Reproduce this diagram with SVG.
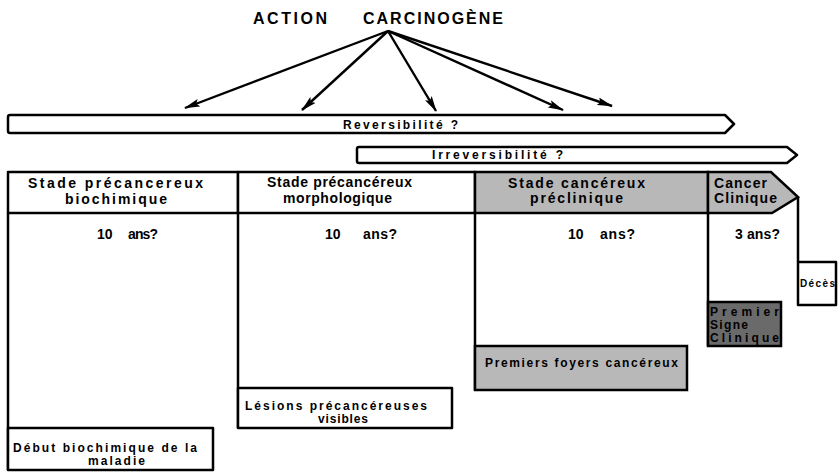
<svg xmlns="http://www.w3.org/2000/svg" width="838" height="472" viewBox="0 0 838 472">
<style>
  text { font-family: "Liberation Sans", Arial, sans-serif; font-weight: bold; fill: #000; }
  .title { font-size: 16px; }
  .hdr { font-size: 14px; }
  .small { font-size: 12px; }
  .box { fill: #fff; stroke: #000; stroke-width: 2.5; stroke-linejoin: round; }
  .gray { fill: #b8b8b8; stroke: #000; stroke-width: 2.5; }
  .dark { fill: #6a6a6a; stroke: #000; stroke-width: 2.5; }
  .line { stroke: #000; stroke-width: 2.5; fill: none; }
  .arrow { stroke: #000; stroke-width: 2.4; fill: none; marker-end: url(#ah); }
</style>
<defs>
  <marker id="ah" viewBox="0 0 16 8" refX="15" refY="4" markerWidth="16" markerHeight="8" markerUnits="userSpaceOnUse" orient="auto">
    <path d="M0,0 L16,4 L0,8 L3,4 Z" fill="#000"/>
  </marker>
</defs>
<rect width="838" height="472" fill="#fff"/>

<g id="title">
  <text class="title" x="253" y="24" textLength="74" lengthAdjust="spacing">ACTION</text>
  <text class="title" x="363" y="24" textLength="140" lengthAdjust="spacing">CARCINOGÈNE</text>
</g>

<g id="connectors">
  <line class="arrow" x1="388" y1="31" x2="185" y2="108"/>
  <line class="arrow" x1="388" y1="31" x2="302" y2="110"/>
  <line class="arrow" x1="388" y1="31" x2="436" y2="111"/>
  <line class="arrow" x1="388" y1="31" x2="563" y2="110"/>
  <line class="arrow" x1="388" y1="31" x2="612" y2="106"/>
  <line class="line" x1="8" y1="213" x2="8" y2="470"/>
  <line class="line" x1="238" y1="213" x2="238" y2="428"/>
  <line class="line" x1="475" y1="213" x2="475" y2="390"/>
  <line class="line" x1="708" y1="213" x2="708" y2="346"/>
  <line class="line" x1="798" y1="197" x2="798" y2="262"/>
</g>

<g id="reversibilite">
  <path class="box" d="M10,115 L725,115 L734,124 L725,133 L10,133 Q8,133 8,131 L8,117 Q8,115 10,115 Z"/>
  <text class="small" x="343" y="129" textLength="115" lengthAdjust="spacing">Reversibilité ?</text>
</g>

<g id="irreversibilite">
  <path class="box" d="M359,147 L787,147 L797,155 L787,163 L359,163 Q357,163 357,161 L357,149 Q357,147 359,147 Z"/>
  <text class="small" x="432" y="159" textLength="131" lengthAdjust="spacing">Irreversibilité ?</text>
</g>

<g id="stade-biochimique">
  <rect class="box" x="8" y="172" width="230" height="41"/>
  <text class="hdr" x="28" y="188" textLength="175" lengthAdjust="spacing">Stade précancereux</text>
  <text class="hdr" x="65" y="204" textLength="102" lengthAdjust="spacing">biochimique</text>
</g>

<g id="stade-morphologique">
  <rect class="box" x="238" y="172" width="237" height="41"/>
  <text class="hdr" x="267" y="187" textLength="145" lengthAdjust="spacing">Stade précancéreux</text>
  <text class="hdr" x="283" y="203" textLength="109" lengthAdjust="spacing">morphologique</text>
</g>

<g id="stade-preclinique">
  <rect class="gray" x="475" y="172" width="233" height="41"/>
  <text class="hdr" x="508" y="188" textLength="137" lengthAdjust="spacing">Stade cancéreux</text>
  <text class="hdr" x="530" y="203" textLength="93" lengthAdjust="spacing">préclinique</text>
</g>

<g id="cancer-clinique">
  <path class="gray" d="M708,172 L771,172 L798,197 L772,213 L708,213 Z"/>
  <text class="hdr" x="714" y="188" textLength="53" lengthAdjust="spacing">Cancer</text>
  <text class="hdr" x="714" y="203" textLength="63" lengthAdjust="spacing">Clinique</text>
</g>

<g id="durees">
  <text class="hdr" x="97" y="239">10</text>
  <text class="hdr" x="128" y="239" textLength="30" lengthAdjust="spacing">ans?</text>
  <text class="hdr" x="325" y="239">10</text>
  <text class="hdr" x="363" y="239" textLength="34" lengthAdjust="spacing">ans?</text>
  <text class="hdr" x="568" y="239">10</text>
  <text class="hdr" x="600" y="239" textLength="35" lengthAdjust="spacing">ans?</text>
  <text class="hdr" x="735" y="239" textLength="45" lengthAdjust="spacing">3 ans?</text>
</g>

<g id="debut">
  <rect class="box" x="8" y="428" width="205" height="42"/>
  <text class="small" x="13" y="452" textLength="184" lengthAdjust="spacing">Début biochimique de la</text>
  <text class="small" x="88" y="465" textLength="57" lengthAdjust="spacing">maladie</text>
</g>

<g id="lesions">
  <rect class="box" x="238" y="388" width="214" height="40"/>
  <text class="small" x="245" y="410" textLength="182" lengthAdjust="spacing">Lésions précancéreuses</text>
  <text class="small" x="318" y="423" textLength="50" lengthAdjust="spacing">visibles</text>
</g>

<g id="foyers">
  <rect class="gray" x="475" y="346" width="212" height="44"/>
  <text class="small" x="485" y="367" textLength="193" lengthAdjust="spacing">Premiers foyers cancéreux</text>
</g>

<g id="premier-signe">
  <rect class="dark" x="708" y="302" width="73" height="44"/>
  <text class="small" x="710" y="316" textLength="69" lengthAdjust="spacing">Premier</text>
  <text class="small" x="710" y="329" textLength="38" lengthAdjust="spacing">Signe</text>
  <text class="small" x="710" y="342" textLength="69" lengthAdjust="spacing">Clinique</text>
</g>

<g id="deces">
  <rect class="box" x="798" y="262" width="38" height="43"/>
  <text x="800" y="287" font-size="10" textLength="35" lengthAdjust="spacing">Décès</text>
</g>
</svg>
